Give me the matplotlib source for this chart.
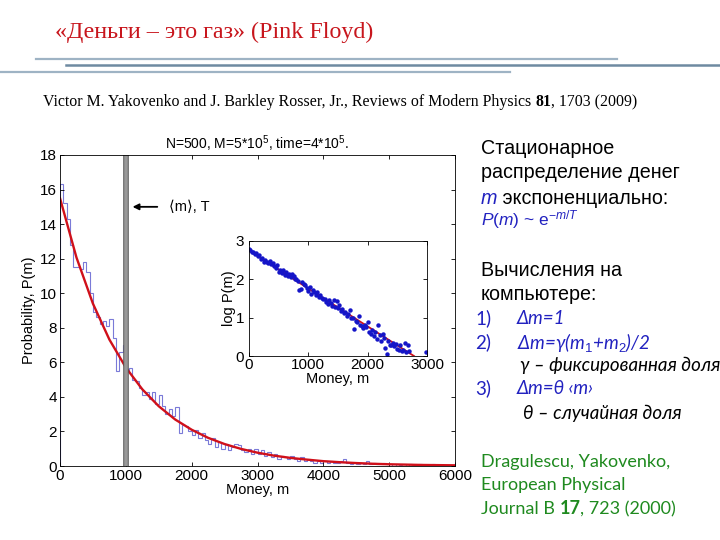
import numpy as np
import matplotlib
matplotlib.use('Agg')
import matplotlib.pyplot as plt
from matplotlib.lines import Line2D

plt.rcParams['font.family'] = ['Liberation Sans', 'DejaVu Sans']
plt.rcParams['mathtext.fontset'] = 'custom'
plt.rcParams['mathtext.rm'] = 'Liberation Sans'
plt.rcParams['mathtext.it'] = 'Liberation Sans:italic'

# histogram of money, bins of 50
bin_width = 50
hist_p = [
    16.3, 15.2, 14.3, 12.8, 11.5, 11.5, 11.4, 11.8, 11.2, 10.0,
    8.9, 8.6, 8.2, 8.4, 8.1, 8.5, 7.4, 5.5, 6.6, 7.0,
    5.5, 5.7, 5.0, 4.9, 4.5, 4.1, 4.3, 3.9, 4.3, 3.6,
    4.1, 3.5, 3.0, 3.3, 2.9, 3.4, 1.9, 2.4, 2.3, 2.0,
    1.8, 2.1, 1.6, 1.9, 1.5, 1.3, 1.6, 1.1, 1.4, 1.0,
    1.3, 0.9, 1.1, 1.3, 1.2, 0.9, 0.8, 1.0, 0.7, 1.0,
    0.7, 0.9, 0.6, 0.8, 0.5, 0.7, 0.4, 0.6, 0.5, 0.4,
    0.6, 0.4, 0.3, 0.5, 0.3, 0.4, 0.3, 0.2, 0.3, 0.2,
    0.3, 0.2, 0.3, 0.2, 0.2, 0.3, 0.4, 0.2, 0.1, 0.2,
    0.1, 0.2, 0.1, 0.3, 0.1, 0.2, 0.1, 0.1, 0.2, 0.1,
    0.1, 0.0, 0.1, 0.05, 0.1, 0.0, 0.1, 0.05, 0.0, 0.1,
    0.05, 0.0, 0.05, 0.1, 0.0, 0.05, 0.0, 0.0, 0.05, 0.0,
]

# exponential fit
fit_m = list(range(0, 6001, 250))
fit_p = [15.5, 12.07, 9.40, 7.32, 5.70, 4.44, 3.46, 2.69, 2.10, 1.63,
         1.27, 0.99, 0.77, 0.60, 0.47, 0.37, 0.28, 0.22, 0.17, 0.13,
         0.10, 0.08, 0.06, 0.05, 0.04]

# inset: log P(m)
inset_m = list(range(0, 2701, 25)) + [2975]
inset_logp = [
    2.80, 2.76, 2.72, 2.70, 2.66, 2.68, 2.62, 2.64, 2.52, 2.55,
    2.45, 2.50, 2.46, 2.42, 2.48, 2.40, 2.43, 2.35, 2.30, 2.38,
    2.20, 2.24, 2.16, 2.25, 2.12, 2.18, 2.10, 2.15, 2.05, 2.14,
    2.08, 2.00, 2.02, 1.95, 1.72, 1.75, 1.93, 1.88, 1.85, 1.78,
    1.70, 1.80, 1.62, 1.72, 1.66, 1.60, 1.68, 1.55, 1.58, 1.52,
    1.48, 1.50, 1.42, 1.35, 1.46, 1.38, 1.30, 1.45, 1.28, 1.44,
    1.25, 1.32, 1.18, 1.22, 1.12, 1.15, 1.05, 1.10, 1.20, 1.00,
    0.98, 0.70, 0.92, 0.88, 1.05, 0.82, 0.78, 0.72, 0.80, 0.75,
    0.90, 0.62, 0.58, 0.68, 0.52, 0.62, 0.45, 0.80, 0.56, 0.40,
    0.58, 0.48, 0.20, 0.05, 0.38, 0.30, 0.28, 0.35, 0.25, 0.32,
    0.18, 0.15, 0.30, 0.12, 0.15, 0.35, 0.10, 0.30, 0.12, 0.10,
]
inset_fit_m = [0, 2780]
inset_fit_logp = [2.75, 0.0]

mean_money = 1000

fig = plt.figure(figsize=(7.2, 5.4), dpi=100)


def px(x, y):
    return x / 720, 1 - y / 540


def chain(x, y, pieces, **common):
    # put text pieces one after another on the same baseline
    first, kw = pieces[0]
    prev = fig.text(*px(x, y), first, va='center', ha='left', **common, **kw)
    for s, kw in pieces[1:]:
        prev = fig.axes[0].annotate(s, xy=(1, 0), xycoords=prev, va='bottom',
                                    ha='left', annotation_clip=False,
                                    **common, **kw)
    return prev


# --- main histogram ---
ax = fig.add_axes([60 / 720, 1 - 466 / 540, 395 / 720, 311 / 540])
edges = np.arange(len(hist_p) + 1) * bin_width
ax.stairs(hist_p, edges, color='#7a7ad8', lw=0.8)
ax.plot(fit_m, fit_p, color='#d0101a', lw=1.7)
ax.axvline(mean_money, color='#555555', lw=4.0)
ax.axvline(mean_money, color='#999999', lw=2.6)
ax.annotate('', xy=(1060, 15), xytext=(1520, 15),
            arrowprops=dict(arrowstyle='-|>', color='black', lw=1.3,
                            mutation_scale=9))
ax.text(1650, 15, '⟨m⟩, T', fontsize=10.5, va='center', ha='left',
        family=['Liberation Sans', 'DejaVu Sans'])
ax.set_xlim(0, 6000)
ax.set_ylim(0, 18)
ax.set_xticks(range(0, 6001, 1000))
ax.set_yticks(range(0, 19, 2))
ax.tick_params(direction='in', top=True, right=True, labelsize=11,
               length=3, width=0.6, pad=2)
for s in ax.spines.values():
    s.set_linewidth(0.6)
ax.set_xlabel('Money, m', fontsize=10.5, labelpad=0)
ax.set_ylabel('Probability, P(m)', fontsize=10.5, labelpad=3)
ax.set_title(r'N=500, M=5*10$^5$, time=4*10$^5$.', fontsize=10, pad=4)

# --- inset ---
ins = fig.add_axes([249 / 720, 1 - 356 / 540, 178 / 720, 115 / 540])
ins.plot(inset_fit_m, inset_fit_logp, color='#d0101a', lw=1.3)
ins.plot(inset_m, inset_logp, 'o', color='#1515c8', ms=3.2, mew=0)
ins.set_xlim(0, 3000)
ins.set_ylim(0, 3)
ins.set_xticks([0, 1000, 2000, 3000])
ins.set_yticks([0, 1, 2, 3])
ins.tick_params(direction='in', top=True, right=True, labelsize=11,
                length=3, width=0.6)
ins.tick_params(axis='x', pad=1.5)
ins.tick_params(axis='y', pad=3.5)
for s in ins.spines.values():
    s.set_linewidth(0.6)
ins.set_xlabel('Money, m', fontsize=10.5, labelpad=0)
ins.set_ylabel('log P(m)', fontsize=10.5, labelpad=0)

# --- slide header ---
serif = ['Liberation Serif', 'DejaVu Serif']
fig.text(*px(55, 32), '«Деньги – это газ» (Pink Floyd)', family=serif,
         fontsize=17.3, color='#c8161d', va='center', ha='left')
for x0, x1, y, c, lw in [(36, 617, 59, '#9eb3c4', 1.6),
                         (66, 720, 65.5, '#6e8aa1', 1.8),
                         (0, 510, 72, '#9eb3c4', 1.6)]:
    fig.add_artist(Line2D([x0 / 720, x1 / 720], [1 - y / 540, 1 - y / 540],
                          color=c, lw=lw, transform=fig.transFigure))
chain(43, 102, [('Victor M. Yakovenko and J. Barkley Rosser, Jr., '
                 'Reviews of Modern Physics ', {}),
                ('81', {'weight': 'bold'}),
                (', 1703 (2009)', {})],
      family=serif, fontsize=11.45)

# --- right text block ---
blue = '#2222c0'
sans = ['Liberation Sans', 'DejaVu Sans']
cal = ['Lato', 'Open Sans', 'DejaVu Sans']
fs = 14.2
fs2 = 13.5
fig.text(*px(481, 148), 'Стационарное', family=sans, fontsize=fs, va='center')
fig.text(*px(481, 173), 'распределение денег', family=sans, fontsize=fs,
         va='center')
chain(481, 198, [('m', {'style': 'italic', 'color': blue}),
                 (' экспоненциально:', {})], family=sans, fontsize=fs)
fig.text(*px(481, 220), r'$P(m)$ ~ e$^{-m/T}$', family=sans, fontsize=12.5,
         color=blue, va='center')
fig.text(*px(481, 270), 'Вычисления на', family=sans, fontsize=fs, va='center')
fig.text(*px(481, 294), 'компьютере:', family=sans, fontsize=fs, va='center')

fig.text(*px(475, 318), '1)', family=cal, fontsize=fs2, color=blue, va='center')
fig.text(*px(517, 318), 'Δm=1', family=cal, fontsize=fs2, color=blue,
         style='italic', va='center')
fig.text(*px(475, 342), '2)', family=cal, fontsize=fs2, color=blue, va='center')
fig.text(*px(517, 342), r'Δm=γ(m$_1$+m$_2$)/2', family=cal, fontsize=fs2,
         color=blue, style='italic', va='center')
fig.text(*px(520, 365), 'γ – фиксированная доля', family=cal,
         fontsize=fs2, style='italic', va='center')
fig.text(*px(475, 388), '3)', family=cal, fontsize=fs2, color=blue, va='center')
fig.text(*px(517, 388), 'Δm=θ ‹m›', family=cal, fontsize=fs2, color=blue,
         style='italic', va='center')
fig.text(*px(523, 413), 'θ – случайная доля', family=cal,
         fontsize=fs2, style='italic', va='center')

green = '#1f8a1f'
fig.text(*px(481, 462), 'Dragulescu, Yakovenko,', family=cal, fontsize=13,
         color=green, va='center')
fig.text(*px(481, 485), 'European Physical', family=cal, fontsize=13,
         color=green, va='center')
chain(481, 509, [('Journal B ', {}), ('17', {'weight': 'bold'}),
                 (', 723 (2000)', {})],
      family=cal, fontsize=13, color=green)

fig.savefig('out.png', dpi=100)
